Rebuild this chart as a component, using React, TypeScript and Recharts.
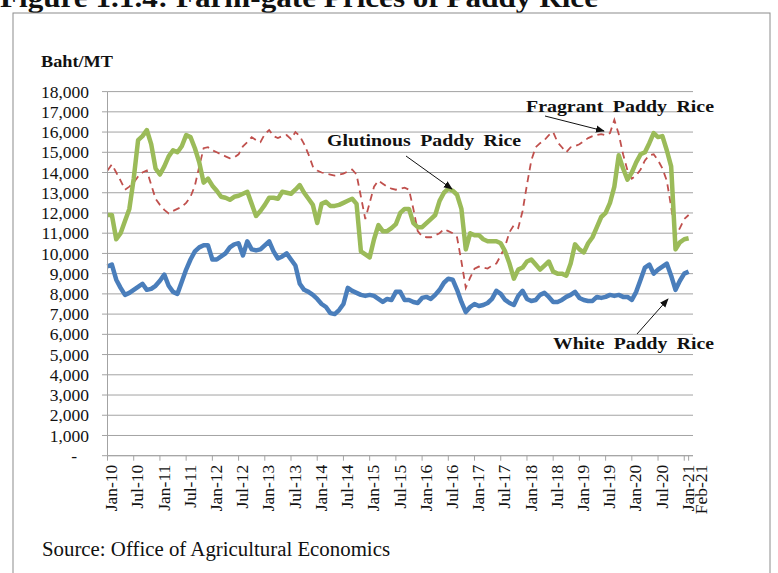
import React from "react";
import { CartesianGrid, Line, LineChart, XAxis, YAxis } from "recharts";

// monthly farm-gate prices, Jan-10 .. Feb-21 (Baht per metric ton)
const MONTHS = ["Jan", "Feb", "Mar", "Apr", "May", "Jun", "Jul", "Aug", "Sep", "Oct", "Nov", "Dec"];
const YEARS = ["10", "11", "12", "13", "14", "15", "16", "17", "18", "19", "20", "21"];

const whitePaddy = [
  9350, 9450, 8700, 8300, 7950, 8050, 8200, 8350, 8500, 8200, 8250, 8400,
  8650, 8950, 8400, 8100, 8000, 8600, 9200, 9700, 10100, 10300, 10400, 10400,
  9700, 9700, 9850, 10000, 10300, 10450, 10500, 9900, 10600, 10200, 10150, 10200,
  10400, 10600, 10100, 9750, 9850, 10000, 9700, 9400, 8500, 8200, 8100, 7950,
  7750, 7500, 7350, 7050, 7000, 7200, 7500, 8300, 8150, 8050, 7950, 7900,
  7950, 7900, 7750, 7600, 7750, 7700, 8100, 8100, 7700, 7700, 7600, 7550,
  7800, 7850, 7750, 7950, 8200, 8550, 8750, 8700, 8200, 7600, 7100, 7350,
  7500, 7400, 7450, 7550, 7750, 8150, 8000, 7700, 7550, 7450, 7900, 8150,
  7750, 7650, 7700, 7950, 8050, 7850, 7600, 7600, 7700, 7850, 7950, 8100,
  7800, 7700, 7650, 7650, 7850, 7800, 7850, 7950, 7900, 7950, 7850, 7850,
  7700, 8100, 8700, 9300, 9450, 9000, 9200, 9350, 9500, 8900, 8200, 8650,
  9000, 9100,
];

const glutinousPaddy = [
  11900, 11900, 10700, 11000, 11600, 12200, 13700, 15600, 15800, 16100, 15400, 14200,
  13900, 14300, 14800, 15100, 15000, 15300, 15850, 15750, 15200, 14500, 13500, 13700,
  13350, 13100, 12800, 12750, 12650, 12800, 12850, 12950, 13050, 12450, 11850, 12100,
  12400, 12750, 12750, 12700, 13050, 13000, 12950, 13150, 13380, 13000, 12700, 12400,
  11500, 12450, 12550, 12350, 12350, 12400, 12500, 12600, 12700, 12450, 10100, 9950,
  9800, 10700, 11400, 11100, 11100, 11250, 11450, 12000, 12200, 12200, 11500, 11300,
  11300, 11500, 11700, 11900, 12600, 13000, 13200, 13100, 12900, 12200, 10200, 11000,
  10900, 10900, 10700, 10600, 10600, 10600, 10500, 10100, 9500, 8750, 9200, 9300,
  9600, 9700, 9450, 9200, 9400, 9600, 9100, 9000, 9000, 8900, 9500, 10450,
  10200, 10050, 10500, 10800, 11300, 11800, 12000, 12500, 13300, 14850, 14200, 13650,
  14000, 14500, 14900, 15000, 15450, 15950, 15750, 15800, 15100, 14300, 10200, 10550,
  10700, 10750,
];

const fragrantPaddy = [
  14100, 14400, 14000, 13600, 13150, 13300, 13500, 13800, 14000, 14100, 13400, 12700,
  12400, 12150, 11980, 12100, 12200, 12300, 12500, 12800, 13350, 14300, 15200, 15250,
  15100, 15000, 14900, 14800, 14700, 14750, 14900, 15300, 15500, 15750, 15600, 15500,
  15900, 16100, 15800, 15700, 15800, 15850, 15650, 16000, 15800, 15400, 14900, 14300,
  14100, 14000, 13950, 13900, 13850, 13900, 13950, 14050, 14150, 13900, 12800, 11700,
  12500, 13300, 13600, 13450, 13300, 13200, 13150, 13200, 13250, 13150, 12200, 11100,
  10850, 10800, 10800, 10900, 11000, 11200, 11100, 11000, 10800, 9600, 8300, 8800,
  9250, 9350, 9300, 9250, 9400, 9500, 9900, 10350, 11050, 11400, 11250, 12100,
  13400, 14600, 15250, 15450, 15600, 15850, 16000, 15500, 15250, 15000, 15250, 15300,
  15400, 15550, 15700, 15800, 15850, 15900, 15850, 15950, 16600, 15900, 14900, 14100,
  13700, 13850, 14150, 14600, 14850, 14900, 14600, 14200, 13600, 12300, 10850, 11250,
  11700, 11900,
];

// axis ticks: every six months plus the final month
const X_TICKS = [0, 6, 12, 18, 24, 30, 36, 42, 48, 54, 60, 66, 72, 78, 84, 90, 96, 102, 108, 114, 120, 126, 132, 133];
const Y_TICKS = [0, 1000, 2000, 3000, 4000, 5000, 6000, 7000, 8000, 9000, 10000, 11000, 12000, 13000, 14000, 15000, 16000, 17000, 18000];

const monthLabels = YEARS.flatMap((yy) => MONTHS.map((m) => `${m}-${yy}`)).slice(0, whitePaddy.length);

const data = monthLabels.map((label, i) => ({
  idx: i,
  label,
  white: whitePaddy[i],
  glutinous: glutinousPaddy[i],
  fragrant: fragrantPaddy[i],
}));

const SERIF = '"Liberation Serif", "Times New Roman", serif';
const GRID = "#a3a3a3";

function YTick({ x, y, payload }: any) {
  const v = payload.value as number;
  return (
    <text
      x={v === 0 ? x - 12 : x}
      y={y}
      dy="0.35em"
      textAnchor="end"
      fontFamily={SERIF}
      fontSize={17.5}
      fill="#111"
    >
      {v === 0 ? "-" : v.toLocaleString("en-US")}
    </text>
  );
}

function XTick({ x, y, payload }: any) {
  const i = payload.value as number;
  // the last month sits right next to Jan-21, nudge it clear
  const shift = i === 133 ? 12 : 3.5;
  return (
    <text
      transform={`translate(${x + shift},${y}) rotate(-90)`}
      dy="0.35em"
      textAnchor="end"
      fontFamily={SERIF}
      fontSize={17.5}
      fill="#111"
    >
      {monthLabels[i]}
    </text>
  );
}

function Notes() {
  const bold = { fontFamily: SERIF, fontWeight: 700, fill: "#111", lengthAdjust: "spacingAndGlyphs" } as const;
  return (
    <svg
      width={778}
      height={573}
      style={{ position: "absolute", left: 0, top: 0, pointerEvents: "none" }}
    >
      <defs>
        <marker id="head" viewBox="0 0 10 10" refX="9" refY="5" markerWidth="9" markerHeight="9" orient="auto">
          <path d="M0,1 L10,5 L0,9 z" fill="#111" />
        </marker>
      </defs>
      <text x={0} y={6.5} fontSize={27} textLength={598} {...bold}>
        Figure 1.1.4: Farm-gate Prices of Paddy Rice
      </text>
      <rect x={13} y={13} width={757} height={600} fill="none" stroke="#8c8c8c" strokeWidth={1} />
      <text x={41} y={67} fontSize={17.5} textLength={72} {...bold}>
        Baht/MT
      </text>
      <text
        x={42}
        y={556}
        fontSize={20}
        textLength={348}
        lengthAdjust="spacingAndGlyphs"
        fontFamily={SERIF}
        fill="#111"
      >
        Source: Office of Agricultural Economics
      </text>

      <text x={526} y={112} fontSize={17.5} textLength={188} wordSpacing={4} {...bold}>
        Fragrant Paddy Rice
      </text>
      <line x1={545} y1={116} x2={604} y2={131} stroke="#111" strokeWidth={1} markerEnd="url(#head)" />

      <text x={327} y={146} fontSize={17.5} textLength={194} wordSpacing={4} {...bold}>
        Glutinous Paddy Rice
      </text>
      <line x1={406} y1={156} x2={452} y2={189} stroke="#111" strokeWidth={1} markerEnd="url(#head)" />

      <text x={553} y={349} fontSize={17.5} textLength={161} wordSpacing={4} {...bold}>
        White Paddy Rice
      </text>
      <line x1={637} y1={334} x2={668} y2={299} stroke="#111" strokeWidth={1} markerEnd="url(#head)" />
    </svg>
  );
}

export default function App() {
  return (
    <div style={{ position: "absolute", left: 0, top: 0, width: 778, height: 573, background: "#fff" }}>
      <LineChart
        width={778}
        height={573}
        data={data}
        margin={{ top: 91.6, right: 85, bottom: 57.3, left: 7.5 }}
      >
        <CartesianGrid vertical={false} stroke={GRID} strokeWidth={1} />
        <XAxis
          dataKey="idx"
          type="number"
          domain={[0, 134]}
          ticks={X_TICKS}
          interval={0}
          height={60}
          stroke={GRID}
          tickSize={5}
          tickMargin={4}
          tick={<XTick />}
        />
        <YAxis
          domain={[0, 18000]}
          ticks={Y_TICKS}
          interval={0}
          width={100}
          stroke={GRID}
          tickSize={5.5}
          tickMargin={13}
          tick={<YTick />}
        />
        <Line
          dataKey="fragrant"
          type="linear"
          stroke="#c0504d"
          strokeWidth={1.8}
          strokeDasharray="7 5"
          dot={false}
          isAnimationActive={false}
        />
        <Line
          dataKey="glutinous"
          type="linear"
          stroke="#9bbb59"
          strokeWidth={4.5}
          strokeLinejoin="round"
          dot={false}
          isAnimationActive={false}
        />
        <Line
          dataKey="white"
          type="linear"
          stroke="#4a7ebb"
          strokeWidth={4.5}
          strokeLinejoin="round"
          dot={false}
          isAnimationActive={false}
        />
      </LineChart>
      <Notes />
    </div>
  );
}
